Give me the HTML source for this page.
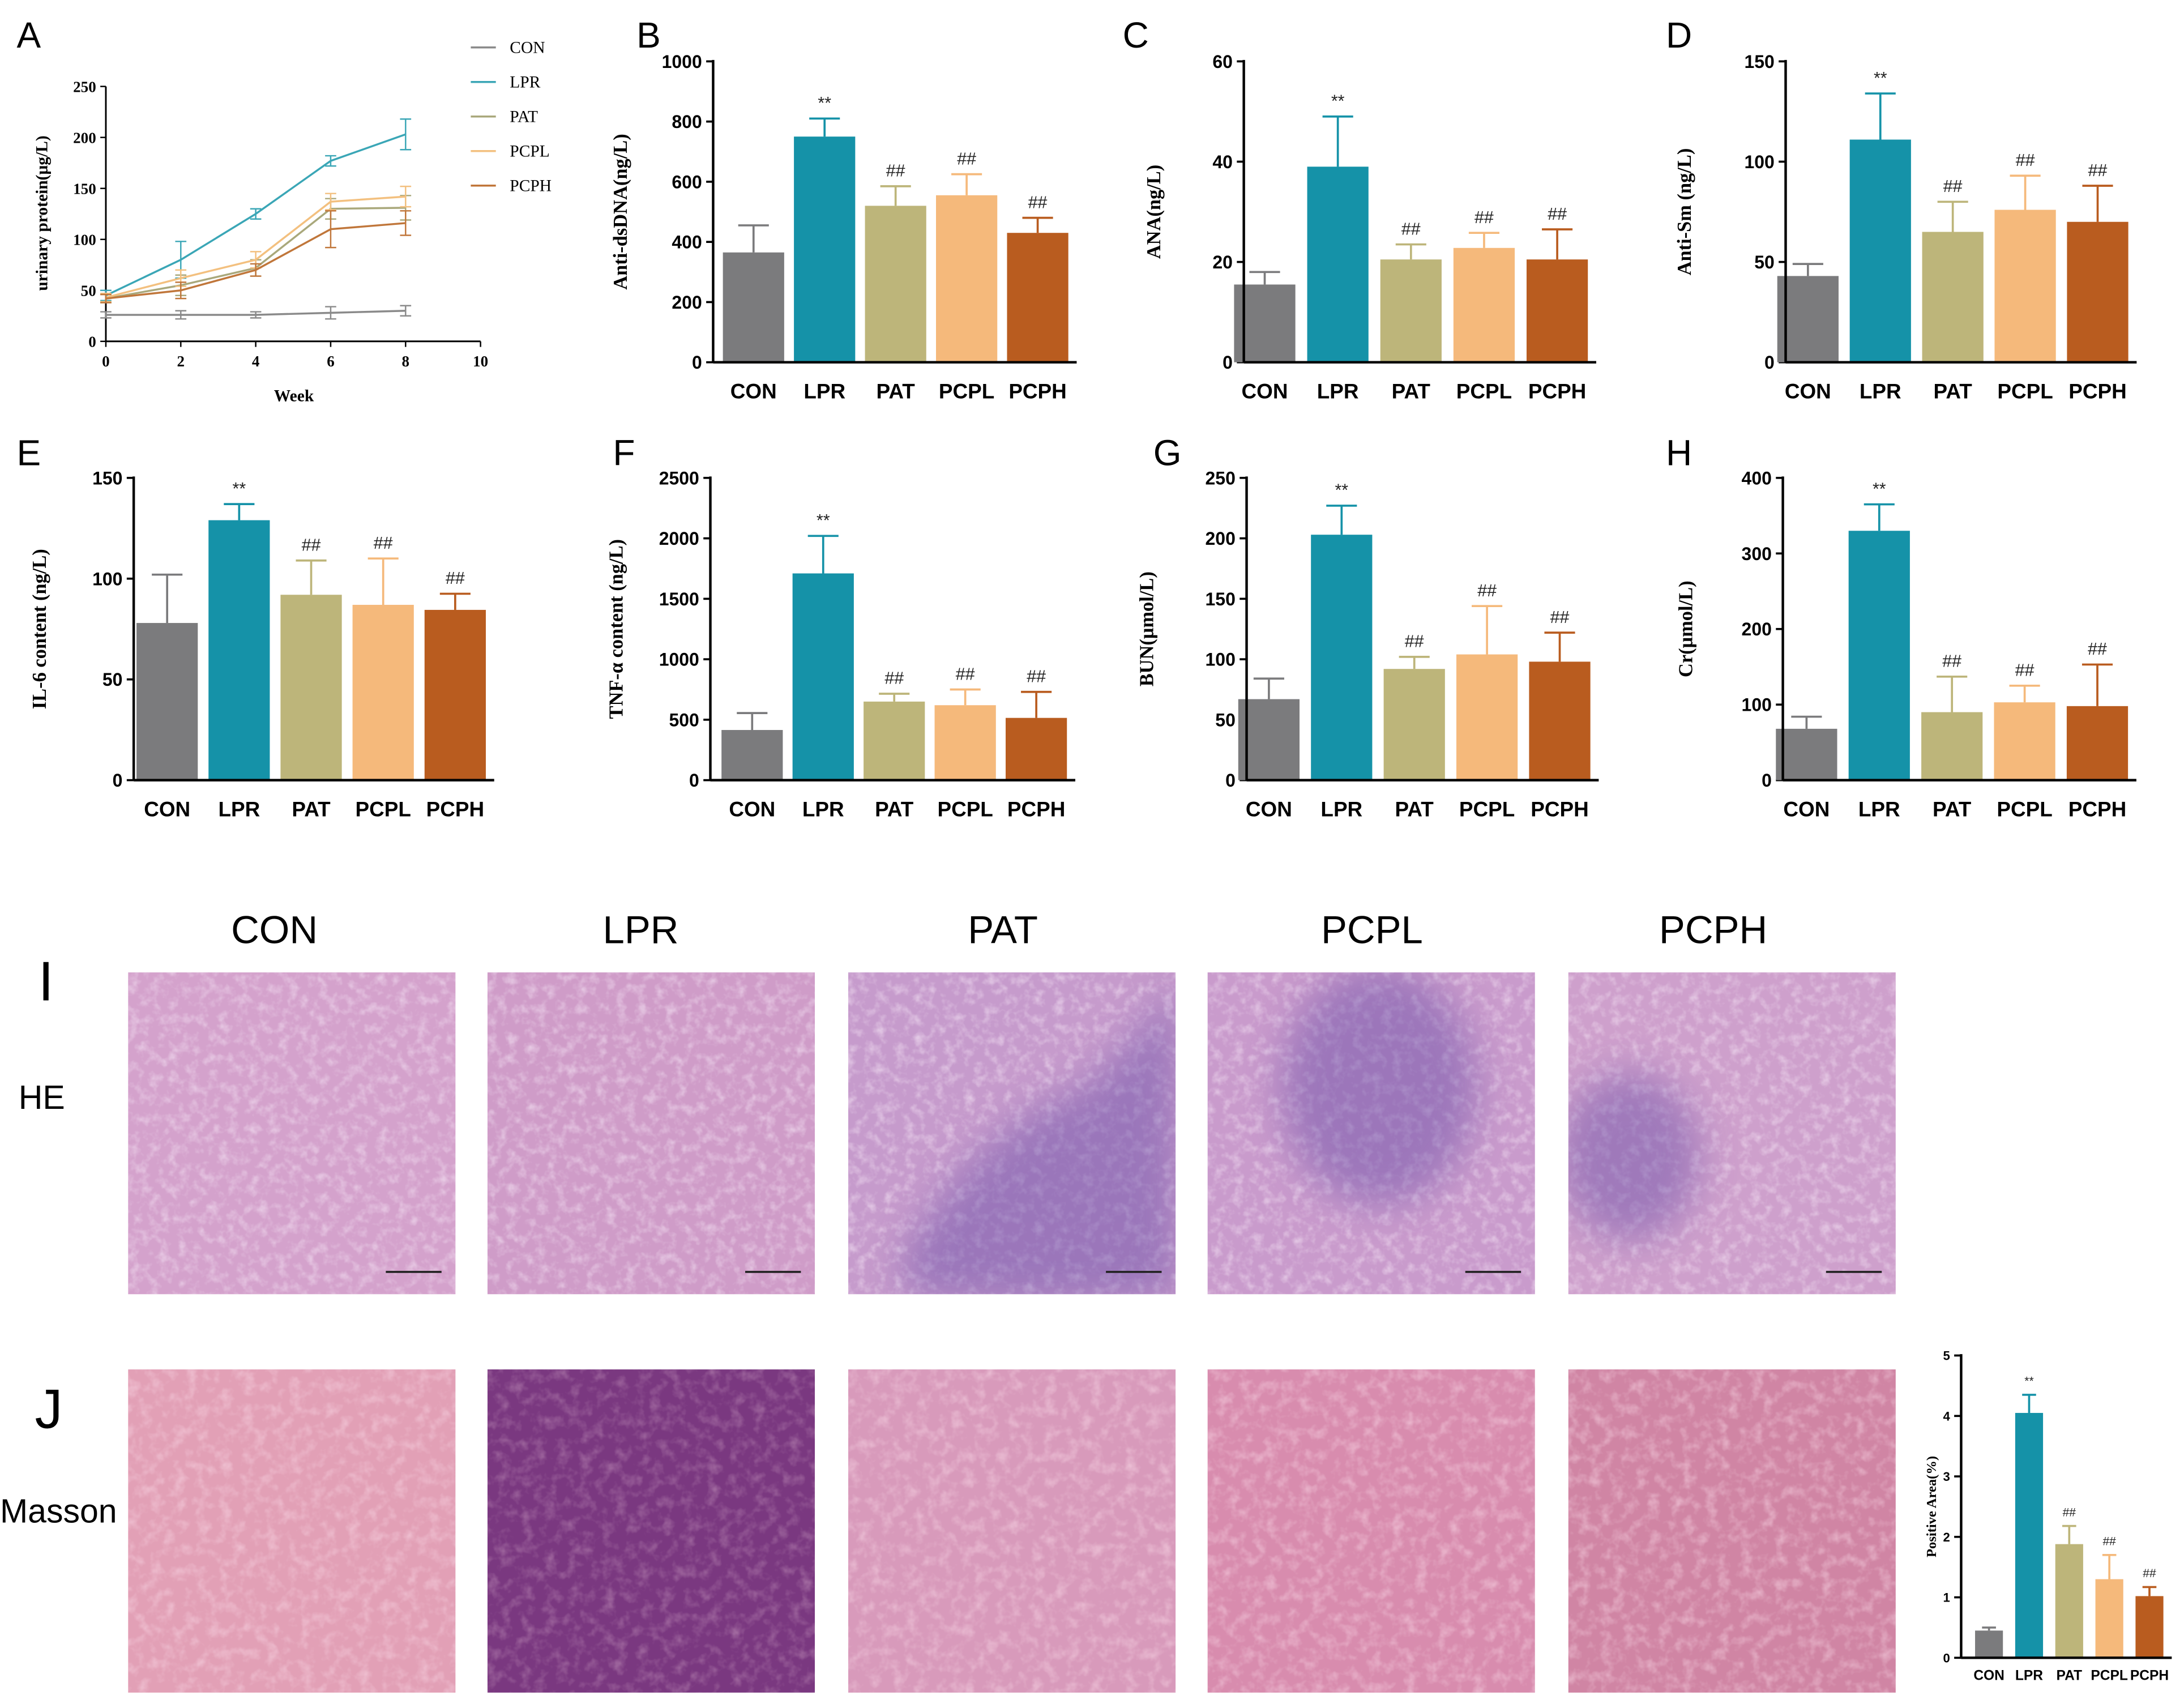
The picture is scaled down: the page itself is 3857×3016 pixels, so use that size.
<!DOCTYPE html>
<html><head><meta charset="utf-8"><style>
html,body{margin:0;padding:0;background:#fff}
svg{display:block}
</style></head><body>
<svg id="fig" width="3857" height="3016" viewBox="0 0 1568 1226" xmlns="http://www.w3.org/2000/svg">
<defs>
<filter id="texHE" x="0" y="0" width="1" height="1"><feTurbulence type="fractalNoise" baseFrequency="0.14" numOctaves="3" seed="3"/><feColorMatrix type="matrix" values="0 0 0 0 0.92  0 0 0 0 0.80  0 0 0 0 0.92  0 0 0 -2 1.1"/><feComposite in2="SourceGraphic" operator="in"/></filter>
<filter id="texM" x="0" y="0" width="1" height="1"><feTurbulence type="fractalNoise" baseFrequency="0.12" numOctaves="3" seed="7"/><feColorMatrix type="matrix" values="0 0 0 0 0.95  0 0 0 0 0.70  0 0 0 0 0.80  0 0 0 -2 1.1"/><feComposite in2="SourceGraphic" operator="in"/></filter>
<filter id="blur" x="-50%" y="-50%" width="200%" height="200%"><feGaussianBlur stdDeviation="14"/></filter>
<clipPath id="clipPAT"><rect x="609" y="698" width="235" height="231"/></clipPath>
<clipPath id="clipPCPL"><rect x="867" y="698" width="235" height="231"/></clipPath>
<clipPath id="clipPCPH"><rect x="1126" y="698" width="235" height="231"/></clipPath>
</defs>
</svg>
<script>
const NS='http://www.w3.org/2000/svg';
const svg=document.getElementById('fig');
function el(tag,attrs,parent,txt){const e=document.createElementNS(NS,tag);for(const k in attrs)e.setAttribute(k,attrs[k]);if(txt!==undefined)e.textContent=txt;(parent||svg).appendChild(e);return e;}

const groups=['CON','LPR','PAT','PCPL','PCPH'];
const barColors=['#7b7b7d','#1592a8','#bdb57a','#f5b97b','#b95c1f'];
const lineColors=['#8a8a8a','#3aa6b6','#a9a87b','#f3c07f','#c0763a'];

// Panel A data
const weeks=[0,2,4,6,8];
const aCON=[26,26,26,28,30];const aCONe=[3,4,3,6,5];
const aLPR=[45,80,125,177,203];const aLPRe=[5,18,5,5,15];
const aPAT=[42,55,72,130,131];const aPATe=[4,10,8,10,12];
const aPCPL=[43,62,80,137,142];const aPCPLe=[4,8,8,8,10];
const aPCPH=[42,50,70,110,116];const aPCPHe=[4,8,6,18,12];
const aTicksY=[0,50,100,150,200,250];const aTicksX=[0,2,4,6,8,10];

// Bar panel data
const bVals=[365,750,520,555,430];const bErr=[90,60,65,70,50];
const cVals=[15.5,39,20.5,22.8,20.5];const cErr=[2.5,10,3,3,6];
const dVals=[43,111,65,76,70];const dErr=[6,23,15,17,18];
const eVals=[78,129,92,87,84.5];const eErr=[24,8,17,23,8];
const fVals=[415,1710,650,620,515];const fErr=[140,310,65,130,215];
const gVals=[67,203,92,104,98];const gErr=[17,24,10,40,24];
const hVals=[68,330,90,103,98];const hErr=[16,35,47,22,55];
const jVals=[0.45,4.05,1.88,1.3,1.02];const jErr=[0.05,0.3,0.3,0.4,0.15];
const marks=['**','##','##','##'];

function panelLetter(t,x,y){const e=el('text',{x,y,'font-family':'Liberation Sans, sans-serif','font-size':26},svg,t);

}

// ---- Panel A ----
(function(){
 const g=el('g',{});
 const x0=76,x1=345,y0=245,y1=62;
 const sx=v=>x0+(v-0)/10*(x1-x0), sy=v=>y0-v/250*(y0-y1);
 el('line',{x1:x0,y1:y0,x2:x0,y2:y1,stroke:'#000','stroke-width':1.2},g);
 el('line',{x1:x0,y1:y0,x2:x1,y2:y0,stroke:'#000','stroke-width':1.2},g);
 aTicksY.forEach(v=>{el('line',{x1:x0-4,y1:sy(v),x2:x0,y2:sy(v),stroke:'#000'},g);
  el('text',{x:x0-7,y:sy(v)+4,'text-anchor':'end','font-family':'Liberation Serif, serif','font-size':11,'font-weight':'bold'},g,v);});
 aTicksX.forEach(v=>{el('line',{x1:sx(v),y1:y0,x2:sx(v),y2:y0+4,stroke:'#000'},g);
  el('text',{x:sx(v),y:y0+18,'text-anchor':'middle','font-family':'Liberation Serif, serif','font-size':11,'font-weight':'bold'},g,v);});
 const xt=el('text',{x:211,y:288,'text-anchor':'middle','font-family':'Liberation Serif, serif','font-size':12,'font-weight':'bold'},g,'Week');
 
 const yt=el('text',{x:0,y:0,transform:'translate(34,153) rotate(-90)','text-anchor':'middle','font-family':'Liberation Serif, serif','font-size':12,'font-weight':'bold'},g,'urinary protein(μg/L)');
 
 const series=[[aCON,aCONe],[aLPR,aLPRe],[aPAT,aPATe],[aPCPL,aPCPLe],[aPCPH,aPCPHe]];
 series.forEach((s,i)=>{
  const pts=weeks.map((w,j)=>sx(w)+','+sy(s[0][j])).join(' ');
  const pl=el('polyline',{points:pts,fill:'none',stroke:lineColors[i],'stroke-width':1.4},g);
  
  weeks.forEach((w,j)=>{const x=sx(w),a=sy(s[0][j]+s[1][j]),b=sy(s[0][j]-s[1][j]);
   el('line',{x1:x,y1:a,x2:x,y2:b,stroke:lineColors[i]},g);
   el('line',{x1:x-4,y1:a,x2:x+4,y2:a,stroke:lineColors[i]},g);
   el('line',{x1:x-4,y1:b,x2:x+4,y2:b,stroke:lineColors[i]},g);});
  const ly=34+i*24.8;
  const lg=el('g',{},g);
  el('line',{x1:338,y1:ly,x2:356,y2:ly,stroke:lineColors[i],'stroke-width':1.4},lg);
  el('text',{x:366,y:ly+4,'font-family':'Liberation Serif, serif','font-size':12},lg,groups[i]);
 });
})();
panelLetter('A',12,34);

// ---- bar chart helper ----
function barChart(o){
 const g=el('g',{});
 const sy=v=>o.y0-v/o.max*(o.y0-o.y1);
 const fs=o.fs||13;
 o.ticks.forEach(v=>{el('line',{x1:o.ax-5,y1:sy(v),x2:o.ax,y2:sy(v),stroke:'#000','stroke-width':1.5},g);
  el('text',{x:o.ax-8,y:sy(v)+fs*0.36,'text-anchor':'end','font-family':'Liberation Sans, sans-serif','font-size':fs,'font-weight':'bold'},g,v);});
 o.vals.forEach((v,i)=>{
  const cx=o.c0+i*o.step, w=o.bw;
  const r=el('rect',{x:cx-w/2,y:sy(v),width:w,height:o.y0-sy(v),fill:barColors[i]},g);
  
  const t=sy(v+o.err[i]);
  el('line',{x1:cx,y1:sy(v),x2:cx,y2:t,stroke:barColors[i],'stroke-width':1.5},g);
  el('line',{x1:cx-w*0.25,y1:t,x2:cx+w*0.25,y2:t,stroke:barColors[i],'stroke-width':1.5},g);
  if(i>0){const m=el('text',{x:cx,y:t-7,'text-anchor':'middle','font-family':'Liberation Sans, sans-serif','font-size':fs*0.95,fill:'#222'},g,marks[i-1]);
   }
  const lb=el('text',{x:cx,y:o.y0+(o.lblOff||26),'text-anchor':'middle','font-family':'Liberation Sans, sans-serif','font-size':o.lfs||15,'font-weight':'bold'},g,groups[i]);
  
 });
 el('line',{x1:o.ax,y1:o.y0,x2:o.ax,y2:o.y1-1,stroke:'#000','stroke-width':1.8},g);
 el('line',{x1:o.ax,y1:o.y0,x2:o.c0+4*o.step+o.bw/2+6,y2:o.y0,stroke:'#000','stroke-width':1.8},g);
 const yt=el('text',{x:0,y:0,transform:`translate(${o.tx},${(o.y0+o.y1)/2}) rotate(-90)`,'text-anchor':'middle','font-family':'Liberation Serif, serif','font-size':o.tfs||14,'font-weight':'bold'},g,o.title);
 
}
barChart({name:'panel-b-anti-dsdna',ax:512,c0:541,step:51,bw:44,y0:260,y1:44,max:1000,ticks:[0,200,400,600,800,1000],vals:bVals,err:bErr,title:'Anti-dsDNA(ng/L)',tx:450});
barChart({name:'panel-c-ana',ax:893,c0:908,step:52.5,bw:44,y0:260,y1:44,max:60,ticks:[0,20,40,60],vals:cVals,err:cErr,title:'ANA(ng/L)',tx:833});
barChart({name:'panel-d-anti-sm',ax:1282,c0:1298,step:52,bw:44,y0:260,y1:44,max:150,ticks:[0,50,100,150],vals:dVals,err:dErr,title:'Anti-Sm (ng/L)',tx:1214});
barChart({name:'panel-e-il6',ax:96,c0:120,step:51.7,bw:44,y0:560,y1:343,max:150,ticks:[0,50,100,150],vals:eVals,err:eErr,title:'IL-6 content (ng/L)',tx:33});
barChart({name:'panel-f-tnf',ax:510,c0:540,step:51,bw:44,y0:560,y1:343,max:2500,ticks:[0,500,1000,1500,2000,2500],vals:fVals,err:fErr,title:'TNF-α content (ng/L)',tx:447});
barChart({name:'panel-g-bun',ax:895,c0:911,step:52.2,bw:44,y0:560,y1:343,max:250,ticks:[0,50,100,150,200,250],vals:gVals,err:gErr,title:'BUN(μmol/L)',tx:828});
barChart({name:'panel-h-cr',ax:1280,c0:1297,step:52.2,bw:44,y0:560,y1:343,max:400,ticks:[0,100,200,300,400],vals:hVals,err:hErr,title:'Cr(μmol/L)',tx:1215});
barChart({name:'panel-j-positive-area',ax:1408,c0:1428,step:28.8,bw:20,y0:1190,y1:973,max:5,ticks:[0,1,2,3,4,5],vals:jVals,err:jErr,title:'Positive Area(%)',tx:1390,fs:9,lfs:10,lblOff:16,tfs:10});
[['B',457,34],['C',806,34],['D',1196,34],['E',12,334],['F',440,334],['G',828,334],['H',1196,334]].forEach(p=>panelLetter(...p));

// ---- micrographs ----
const colX=[92,350,609,867,1126];const colLabelX=[197,460,720,985,1230];
colLabelX.forEach((x,i)=>{const t=el('text',{x,y:677,'text-anchor':'middle','font-family':'Liberation Sans, sans-serif','font-size':28},svg,groups[i]);
 });
const heBase=['#d4a2cc','#cf9cc8','#c69bcc','#c99bcc','#cea0cc'];
const mBase=['#e2a0b6','#7a3880','#d89abb','#d88cae','#d085a4'];
colX.forEach((x,i)=>{
 const r1=el('rect',{x,y:698,width:235,height:231,fill:heBase[i]});
 
 el('rect',{x,y:698,width:235,height:231,fill:'#fff',filter:'url(#texHE)',opacity:0.6});
 const r2=el('rect',{x,y:983,width:235,height:232,fill:mBase[i]});
 
 el('rect',{x,y:983,width:235,height:232,fill:'#fff',filter:'url(#texM)',opacity:i==1?0.3:0.55});
});
// dense infiltrate regions, clipped to images
function infil(clip,shape,attrs){
 const c=el('g',{'clip-path':'url(#'+clip+')'});
 
 const b=el('g',{filter:'url(#blur)',opacity:0.4},c);
 el(shape,attrs,b);
}
infil('clipPAT','path',{d:'M650 900 Q700 810 780 780 Q830 730 845 705 L845 929 Q760 940 650 929 Z',fill:'#5a3fa0'});
infil('clipPCPL','ellipse',{cx:990,cy:780,rx:70,ry:85,fill:'#5a3fa0'});
infil('clipPCPH','ellipse',{cx:1170,cy:830,rx:50,ry:60,fill:'#5a3fa0'});
colX.forEach(x=>{const s=el('line',{x1:x+185,y1:913,x2:x+225,y2:913,stroke:'#222','stroke-width':1.5});
 });
[['I',33,718,40],['HE',30,796,24],['J',35,1025,40],['Masson',42,1093,24]].forEach(p=>{
 const t=el('text',{x:p[1],y:p[2],'text-anchor':'middle','font-family':'Liberation Sans, sans-serif','font-size':p[3]},svg,p[0]);
 });
</script>
</body></html>
